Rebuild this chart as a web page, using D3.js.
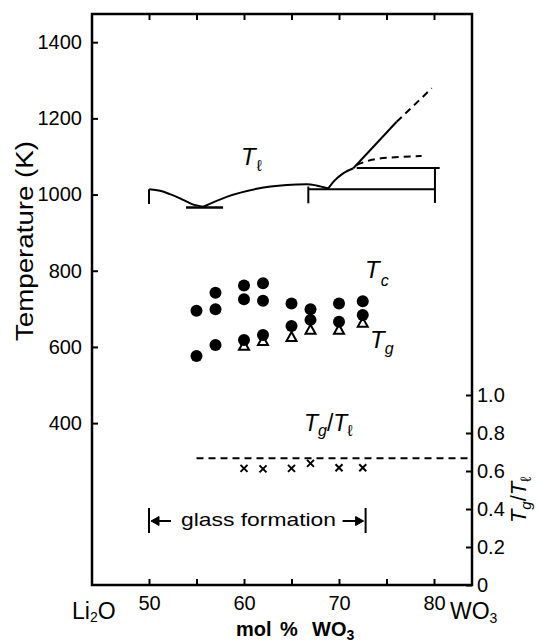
<!DOCTYPE html>
<html><head><meta charset="utf-8">
<script src="https://cdn.jsdelivr.net/npm/d3@7"></script>
<style>
html,body{margin:0;padding:0;background:#fff;}
svg{display:block;}
text{font-family:"Liberation Sans",Arial,sans-serif;fill:#000;}
</style></head><body>
<svg id="c" width="538" height="642"></svg>
<script>
// ---------- data ----------
const xTicks = [50, 55, 60, 65, 70, 75, 80];
const xTickLabels = ["50", "", "60", "", "70", "", "80"];
const yTicks = [400, 600, 800, 1000, 1200, 1400];
const yTickLabels = ["400", "600", "800", "1000", "1200", "1400"];
const ratioTicks = [0, 0.2, 0.4, 0.6, 0.8, 1.0];
const ratioTickLabels = ["0", "0.2", "0.4", "0.6", "0.8", "1.0"];

// measured compositions (mol % WO3)
const compAll = [55, 57, 60, 62, 65, 67, 70, 72.5];
const tcHigh = [695, 742, 761, 767, 714, 699, 714, 720];
const compMid = [57, 60, 62];
const tcMid = [699, 725, 721];
const tLowCircles = [576, 605, 618, 631, 655, 671, 666, 684];
const compTri = [60, 62, 65, 67, 70, 72.5];
const tgTriangles = [602, 614, 625, 644, 644, 662];
const ratioValues = [0.614, 0.611, 0.614, 0.64, 0.617, 0.617];
const ratioRef = 0.667;
const ratioRefRange = [55, 84];

// liquidus / phase diagram lines
const liqA_x = [50.03, 51.16, 52.21, 53.26, 54.53, 55.72];
const liqA_T = [1014, 1010, 1001, 990, 975, 968];
const liqB_x = [55.72, 58.18, 61.34, 64.49, 66.6, 67.6, 68.87];
const liqB_T = [968, 994, 1015, 1025, 1027, 1024, 1016];
const liqC_x = [68.87, 69.5, 70.4, 71.51];
const liqC_T = [1016, 1036, 1055, 1069];
const liqCline_x = [71.51, 76.07];
const liqCline_T = [1069, 1191];
const liqCdash_x = [76.07, 79.76];
const liqCdash_T = [1191, 1279];
const liqD_x = [71.86, 73.61, 75.9, 78.7];
const liqD_T = [1078, 1092, 1098, 1101];
const eutectic1_x = [53.9, 57.8];
const eutectic1_T = 966;
const solidus_x = [66.77, 80.1];
const solidus_T = 1014;
const upper_x = [71.86, 80.6];
const upper_T = 1070;
const brackets_x = [50, 66.77, 80.1];
const brackets_top = [1014, 1021, 1070];
const brackets_bot = [975, 977, 978];
const glassRange = [50, 72.8];

// ---------- scales ----------
const svg = d3.select("#c");
const L = 92, R = 472, T = 14, B = 585;
const x = d3.scaleLinear().domain([44, 84]).range([L, R]);
const y = d3.scaleLinear().domain([-25, 1474]).range([B, T]);
const r = d3.scaleLinear().domain([0, 1]).range([B, 395]);

// ---------- axes ----------
function styleAxis(g) {
  g.select(".domain").remove();
  g.selectAll(".tick line").attr("stroke", "#000").attr("stroke-width", 2);
  g.selectAll(".tick text").attr("font-family", "Liberation Sans, Arial, sans-serif")
    .attr("font-size", 20).attr("fill", "#000");
}
svg.append("g").attr("transform", `translate(${L},0)`)
  .call(d3.axisLeft(y).tickValues(yTicks).tickSize(-6).tickPadding(10)
    .tickFormat((d, i) => yTickLabels[i])).call(styleAxis);
svg.append("g").attr("transform", `translate(0,${B})`)
  .call(d3.axisBottom(x).tickValues(xTicks).tickSize(-6).tickPadding(11)
    .tickFormat((d, i) => xTickLabels[i])).call(styleAxis);
svg.append("g").attr("transform", `translate(0,${T})`)
  .call(d3.axisTop(x).tickValues(xTicks).tickSize(-6).tickFormat("")).call(styleAxis);
svg.append("g").attr("transform", `translate(${R},0)`)
  .call(d3.axisRight(r).tickValues(ratioTicks).tickSize(-6).tickPadding(5)
    .tickFormat((d, i) => ratioTickLabels[i])).call(styleAxis);

svg.append("rect").attr("x", L).attr("y", T).attr("width", R - L).attr("height", B - T)
  .attr("fill", "none").attr("stroke", "#000").attr("stroke-width", 2.5);

// ---------- phase-diagram lines ----------
const lineG = svg.append("g").attr("fill", "none").attr("stroke", "#000").attr("stroke-width", 2);
const curve = d3.line().x(d => x(d[0])).y(d => y(d[1])).curve(d3.curveMonotoneX);
const straight = d3.line().x(d => x(d[0])).y(d => y(d[1]));
const zip = (a, b) => a.map((v, i) => [v, b[i]]);

lineG.append("path").attr("d", curve(zip(liqA_x, liqA_T)));
lineG.append("path").attr("d", curve(zip(liqB_x, liqB_T)));
lineG.append("path").attr("d", curve(zip(liqC_x, liqC_T)));
lineG.append("path").attr("d", straight(zip(liqCline_x, liqCline_T)));
lineG.append("path").attr("d", straight(zip(liqCdash_x, liqCdash_T))).attr("stroke-dasharray", "7,5");
lineG.append("path").attr("d", curve(zip(liqD_x, liqD_T))).attr("stroke-dasharray", "7,5");
lineG.append("path").attr("d", straight(eutectic1_x.map(v => [v, eutectic1_T]))).attr("stroke-width", 2.5);
lineG.append("path").attr("d", straight(solidus_x.map(v => [v, solidus_T])));
lineG.append("path").attr("d", straight(upper_x.map(v => [v, upper_T])));
brackets_x.forEach((bx, i) => {
  lineG.append("path").attr("d", straight([[bx, brackets_top[i]], [bx, brackets_bot[i]]]));
});

// ---------- data marks ----------
const triG = svg.append("g");
compTri.forEach((cx, i) => {
  const px = x(cx), py = y(tgTriangles[i]);
  triG.append("path")
    .attr("d", `M${px},${py - 5.5}L${px - 5},${py + 3.5}L${px + 5},${py + 3.5}Z`)
    .attr("fill", "#fff").attr("stroke", "#000").attr("stroke-width", 2);
});
const circG = svg.append("g").attr("fill", "#000");
function circles(xs, ts) {
  xs.forEach((cx, i) => circG.append("circle").attr("cx", x(cx)).attr("cy", y(ts[i])).attr("r", 6));
}
circles(compAll, tcHigh);
circles(compMid, tcMid);
circles(compAll, tLowCircles);

// ratio dashed reference line and crosses
const ratioLine = d3.line().x(d => x(d[0])).y(d => r(d[1]));
svg.append("path").attr("d", ratioLine(ratioRefRange.map(v => [v, ratioRef])))
  .attr("fill", "none").attr("stroke", "#000").attr("stroke-width", 2).attr("stroke-dasharray", "7,5");
const crossG = svg.append("g").attr("stroke", "#000").attr("stroke-width", 2);
compTri.forEach((cx, i) => {
  const px = x(cx), py = r(ratioValues[i]), s = 3.5;
  crossG.append("path").attr("d", `M${px - s},${py - s}L${px + s},${py + s}M${px - s},${py + s}L${px + s},${py - s}`);
});

// glass formation arrows
const gy = 521;
const gf = svg.append("g").attr("stroke", "#000").attr("stroke-width", 2).attr("fill", "#000");
gf.append("line").attr("x1", x(glassRange[0])).attr("x2", x(glassRange[0])).attr("y1", 508).attr("y2", 533);
gf.append("line").attr("x1", x(glassRange[0]) + 4).attr("x2", x(glassRange[0]) + 22).attr("y1", gy).attr("y2", gy);
gf.append("path").attr("stroke-width", 1).attr("d", `M${x(glassRange[0]) + 2},${gy}l8,-4.5l0,9Z`);
gf.append("line").attr("x1", x(glassRange[1])).attr("x2", x(glassRange[1])).attr("y1", 508).attr("y2", 533);
gf.append("line").attr("x1", x(glassRange[1]) - 23).attr("x2", x(glassRange[1]) - 4).attr("y1", gy).attr("y2", gy);
gf.append("path").attr("stroke-width", 1).attr("d", `M${x(glassRange[1]) - 2},${gy}l-8,-4.5l0,9Z`);
svg.append("text").attr("x", 181).attr("y", 526).attr("font-family", "DejaVu Sans, sans-serif")
  .attr("font-size", 19).attr("textLength", 155).attr("lengthAdjust", "spacingAndGlyphs").text("glass formation");

// ---------- labels ----------
function tLabel(px, py, size, sub, subSize, subDx, subDy) {
  const t = svg.append("text").attr("x", px).attr("y", py).attr("font-size", size).attr("font-style", "italic");
  t.append("tspan").text("T");
  t.append("tspan").attr("font-size", subSize).attr("dx", subDx).attr("dy", subDy).attr("font-style", sub === "ℓ" ? "normal" : "italic").text(sub);
  return t;
}
tLabel(241, 165, 24, "ℓ", 16, 1, 6);
tLabel(365, 278, 24, "c", 16, 1, 8);
tLabel(370, 348, 24, "g", 16, 0, 6);

// in-plot Tg/Tl
{
  const t = svg.append("text").attr("x", 304).attr("y", 431).attr("font-size", 23).attr("font-style", "italic");
  t.append("tspan").text("T");
  t.append("tspan").attr("font-size", 16).attr("dy", 5).text("g");
  t.append("tspan").attr("dy", -5).attr("font-style", "normal").text("/");
  t.append("tspan").text("T");
  t.append("tspan").attr("font-size", 16).attr("dy", 5).attr("font-style", "normal").text("ℓ");
}
// right axis title
{
  const t = svg.append("text").attr("transform", "translate(526,500) rotate(-90)")
    .attr("text-anchor", "middle").attr("font-size", 22).attr("font-style", "italic");
  t.append("tspan").text("T");
  t.append("tspan").attr("font-size", 15).attr("dy", 5).text("g");
  t.append("tspan").attr("dy", -5).attr("font-style", "normal").text("/");
  t.append("tspan").text("T");
  t.append("tspan").attr("font-size", 15).attr("dy", 5).attr("font-style", "normal").text("ℓ");
}
// left axis title
svg.append("text").attr("transform", "translate(33,241) rotate(-90)").attr("text-anchor", "middle")
  .attr("font-family", "DejaVu Sans, sans-serif")
  .attr("font-size", 23).attr("textLength", 200).attr("lengthAdjust", "spacingAndGlyphs")
  .text("Temperature (K)");

// end labels
{
  const t = svg.append("text").attr("x", 72).attr("y", 619).attr("font-size", 23);
  t.append("tspan").text("Li");
  t.append("tspan").attr("font-size", 14).attr("dy", 3).text("2");
  t.append("tspan").attr("dy", -3).text("O");
}
{
  const t = svg.append("text").attr("x", 450).attr("y", 619).attr("font-size", 23);
  t.append("tspan").text("WO");
  t.append("tspan").attr("font-size", 14).attr("dy", 4).text("3");
}
// x axis title
{
  const t = svg.append("text").attr("x", 236).attr("y", 636).attr("font-size", 20).attr("font-weight", "bold");
  t.append("tspan").text("mol");
  t.append("tspan").attr("x", 280).text("%");
  t.append("tspan").attr("x", 312).text("WO");
  t.append("tspan").attr("font-size", 14).attr("dy", 4).text("3");
}
</script>
</body></html>
